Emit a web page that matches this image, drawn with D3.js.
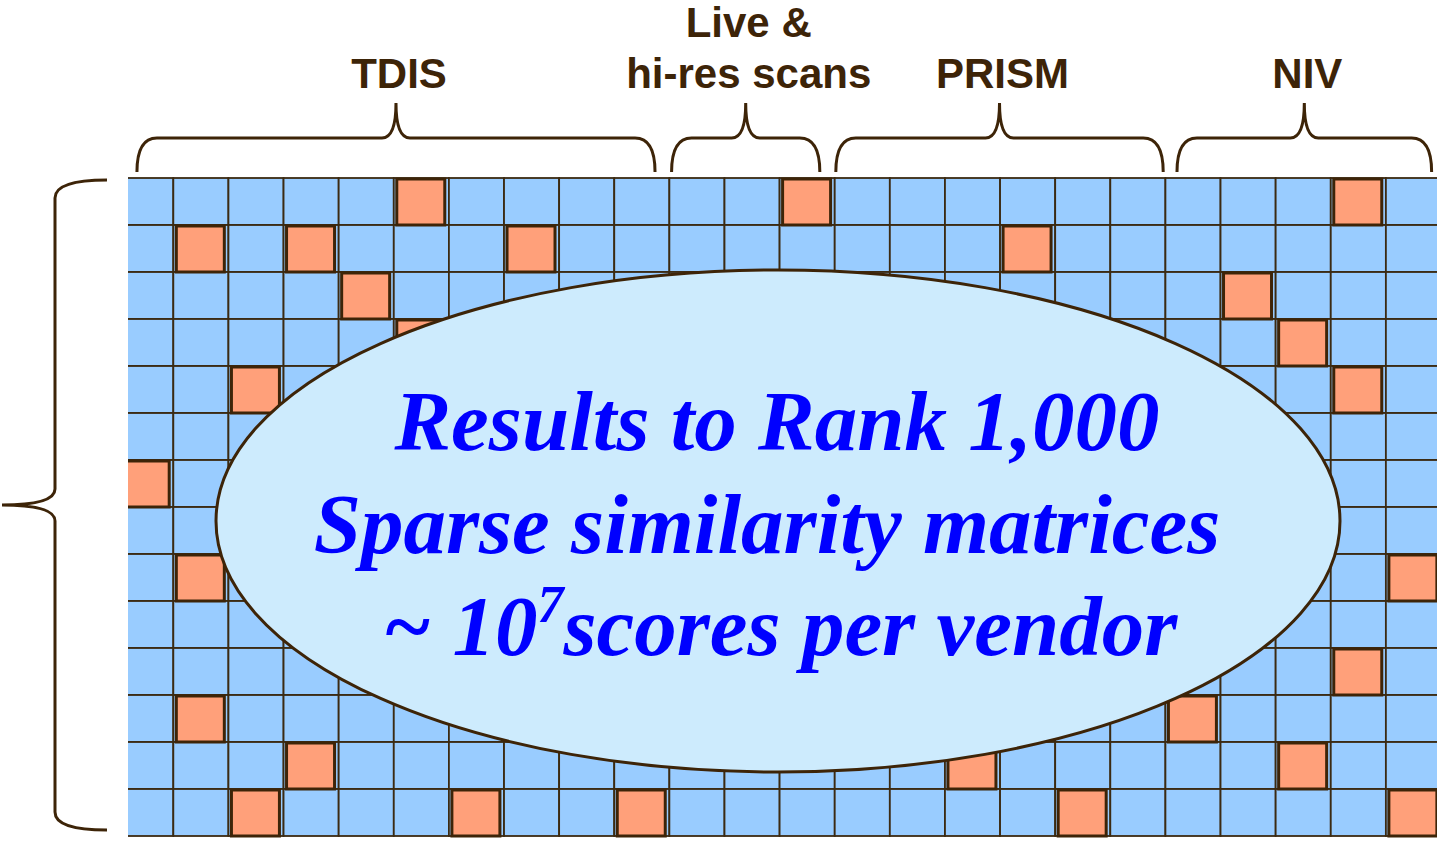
<!DOCTYPE html>
<html>
<head>
<meta charset="utf-8">
<script src="https://cdn.jsdelivr.net/npm/d3@7"></script>
<style>
  html, body { margin: 0; padding: 0; background: #fff; overflow: hidden; }
</style>
</head>
<body>
<div id="graph"></div>
<script>
"use strict";

// similarity matrix: 14 probe rows x 24 gallery columns
const nRows = 14;
const nCols = 24;

// cells that hold a retained score, as [row, col]
const hitCells = [
    [0, 5], [0, 12], [0, 22],
    [1, 1], [1, 3], [1, 7], [1, 16],
    [2, 4], [2, 20],
    [3, 5], [3, 21],
    [4, 2], [4, 22],
    [6, 0],
    [8, 1], [8, 23],
    [10, 22],
    [11, 1], [11, 19],
    [12, 3], [12, 15], [12, 21],
    [13, 2], [13, 6], [13, 9], [13, 17], [13, 23]
];

// vendor groups across the top (in column units)
const vendorLabels = [["TDIS"], ["Live &", "hi-res scans"], ["PRISM"], ["NIV"]];
const braceFrom = [0.34, 10.04, 13.02, 19.21];
const braceTo = [9.74, 12.73, 18.96, 23.83];

const noteLines = ["Results to Rank 1,000", "Sparse similarity matrices"];

(function() {
    const svgSize = {
        width : 1437,
        height: 842,
    };
    const ink = "#3d2408";

    window.addEventListener("load", init);

    function init() {
        let svg = d3.select("#graph")
                    .append("svg")
                        .attr("width", svgSize.width)
                        .attr("height", svgSize.height);

        let x = d3.scaleLinear().domain([0, nCols]).range([118.2, 1441]);
        let y = d3.scaleLinear().domain([0, nRows]).range([178, 836]);

        svg.append("clipPath").attr("id", "gridclip")
            .append("rect")
                .attr("x", 128).attr("y", 170)
                .attr("width", 1309).attr("height", 672);

        let grid = svg.append("g").attr("clip-path", "url(#gridclip)");

        // background cells
        let cells = d3.cross(d3.range(nRows), d3.range(nCols));
        grid.selectAll("rect.cell")
            .data(cells)
            .enter()
            .append("rect")
                .attr("class", "cell")
                .attr("x", d => x(d[1]))
                .attr("y", d => y(d[0]))
                .attr("width", x(1) - x(0))
                .attr("height", y(1) - y(0))
                .attr("fill", "#99ccff")
                .attr("stroke", "#3b2a12")
                .attr("stroke-width", 1.8);

        // retained scores
        grid.selectAll("rect.hit")
            .data(hitCells)
            .enter()
            .append("rect")
                .attr("class", "hit")
                .attr("x", d => x(d[1]) + 3)
                .attr("y", d => y(d[0]) + 1)
                .attr("width", 48)
                .attr("height", 46)
                .attr("fill", "#ffa07a")
                .attr("stroke", ink)
                .attr("stroke-width", 3);

        // top braces + labels
        let groups = svg.selectAll("g.vendor")
            .data(vendorLabels)
            .enter()
            .append("g")
                .attr("class", "vendor");

        groups.append("path")
            .attr("d", (d, i) => hBrace(x(braceFrom[i]), x(braceTo[i]), 172, 138, 103))
            .attr("fill", "none")
            .attr("stroke", ink)
            .attr("stroke-width", 3);

        groups.each(function(d, i) {
            let cx = (x(braceFrom[i]) + x(braceTo[i])) / 2 + 3;
            let base = 88 - (d.length - 1) * 51;
            d3.select(this).selectAll("text")
                .data(d)
                .enter()
                .append("text")
                    .attr("x", cx)
                    .attr("y", (t, j) => base + j * 51)
                    .attr("text-anchor", "middle")
                    .attr("font-family", "'Liberation Sans', Arial, sans-serif")
                    .attr("font-weight", "bold")
                    .attr("font-size", 42)
                    .attr("fill", ink)
                    .text(t => t);
        });

        // left brace over all probes
        svg.append("path")
            .attr("d", vBrace(107, y(0) + 2, y(nRows) - 6, 55, 2))
            .attr("fill", "none")
            .attr("stroke", ink)
            .attr("stroke-width", 3);

        // callout
        svg.append("ellipse")
            .attr("cx", 778).attr("cy", 521)
            .attr("rx", 562).attr("ry", 251)
            .attr("fill", "#cdebfd")
            .attr("stroke", ink)
            .attr("stroke-width", 3);

        let note = svg.append("g")
            .attr("font-family", "'Liberation Serif', 'Times New Roman', serif")
            .attr("font-weight", "bold")
            .attr("font-style", "italic")
            .attr("font-size", 85)
            .attr("fill", "#0000ff");

        note.selectAll("text.line")
            .data(noteLines)
            .enter()
            .append("text")
                .attr("class", "line")
                .attr("x", (d, i) => i === 0 ? 777 : 767)
                .attr("y", (d, i) => 450 + i * 103)
                .attr("text-anchor", "middle")
                .text(d => d);

        let last = note.append("text")
            .attr("x", 780)
            .attr("y", 655)
            .attr("text-anchor", "middle");
        last.append("tspan").text("~ 10");
        last.append("tspan").attr("font-size", 52).attr("dy", -33).text("7");
        last.append("tspan").attr("dy", 33).text("scores per vendor");
    }

    /* --- HELPER FUNCTIONS --- */

    // curly brace opening downward, tip pointing up
    function hBrace(x0, x1, yEnd, yMid, yTip) {
        let xm = (x0 + x1) / 2;
        return "M" + x0 + "," + yEnd +
            "Q" + x0 + "," + yMid + " " + (x0 + 20) + "," + yMid +
            "L" + (xm - 14) + "," + yMid +
            "Q" + xm + "," + yMid + " " + xm + "," + yTip +
            "Q" + xm + "," + yMid + " " + (xm + 14) + "," + yMid +
            "L" + (x1 - 20) + "," + yMid +
            "Q" + x1 + "," + yMid + " " + x1 + "," + yEnd;
    }

    // curly brace opening right, tip pointing left
    function vBrace(xEnd, y0, y1, xMid, xTip) {
        let ym = (y0 + y1) / 2;
        return "M" + xEnd + "," + y0 +
            "Q" + xMid + "," + y0 + " " + xMid + "," + (y0 + 18) +
            "L" + xMid + "," + (ym - 16) +
            "Q" + xMid + "," + ym + " " + xTip + "," + ym +
            "Q" + xMid + "," + ym + " " + xMid + "," + (ym + 16) +
            "L" + xMid + "," + (y1 - 18) +
            "Q" + xMid + "," + y1 + " " + xEnd + "," + y1;
    }

})();
</script>
</body>
</html>
